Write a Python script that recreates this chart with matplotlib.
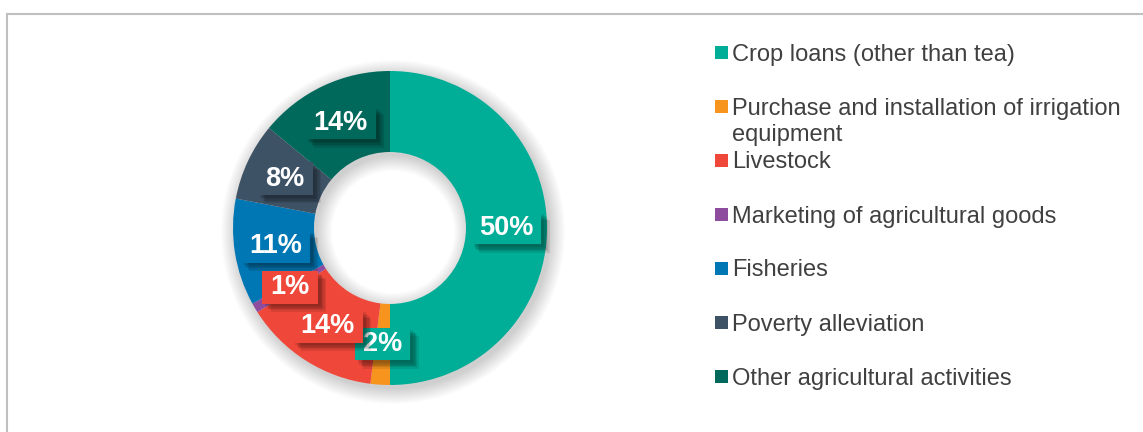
import matplotlib
matplotlib.use("Agg")
import matplotlib.pyplot as plt
import matplotlib.patheffects as pe
from matplotlib.patches import Wedge, Rectangle
from matplotlib.lines import Line2D

plt.rcParams['font.family'] = ['Liberation Sans', 'DejaVu Sans']

categories = [
    "Crop loans (other than tea)",
    "Purchase and installation of irrigation\nequipment",
    "Livestock",
    "Marketing of agricultural goods",
    "Fisheries",
    "Poverty alleviation",
    "Other agricultural activities",
]
shares = [50, 2, 14, 1, 11, 8, 14]
colors = ["#00ad97", "#f7941d", "#ef473a", "#8e4c9e", "#0077b5", "#3e5266", "#00695b"]
# the small slices take the label box colour of their neighbour
label_box_colors = ["#00ad97", "#00ad97", "#ef473a", "#ef473a", "#0077b5", "#3e5266", "#00695b"]


def main():
    W, H = 1143, 432
    fig = plt.figure(figsize=(W / 100, H / 100), dpi=100)
    ax = fig.add_axes([0, 0, 1, 1])

    cx, cy, r_out, ring = 390, 204, 157, 81

    # soft shadow behind the ring
    for i in range(16):
        ax.add_patch(Wedge((cx + 3, cy - 4), r_out + i, 0, 360, width=ring + 2 * i,
                           facecolor="black", alpha=0.011, linewidth=0, zorder=0))

    wedges, _, pcts = ax.pie(
        shares, colors=colors, startangle=90, counterclock=False,
        radius=r_out, center=(cx, cy), wedgeprops=dict(width=ring, linewidth=0),
        autopct=lambda p: f"{p:.0f}%", pctdistance=0.74, frame=True,
    )
    shadow = [pe.SimplePatchShadow(offset=(k, -k), shadow_rgbFace="black", alpha=0.09)
              for k in (2, 3, 4, 5, 6)]
    for t, c in zip(pcts, label_box_colors):
        t.set_color("white")
        t.set_fontsize(19.5)
        t.set_fontweight("bold")
        t.set_zorder(5)
        t.set_bbox(dict(boxstyle="square,pad=0.3", mutation_aspect=0.42,
                        facecolor=c, edgecolor="none"))
        t.get_bbox_patch().set_path_effects(shadow + [pe.Normal()])

    # legend
    y0, step = 432 - 52, 54
    for i, (lab, c) in enumerate(zip(categories, colors)):
        y = y0 - i * step
        ax.add_patch(Rectangle((715, y - 6.5), 13, 13, facecolor=c, edgecolor="none"))
        for j, line in enumerate(lab.split("\n")):
            ax.text(732, y - 8.5 - 26 * j, line, fontsize=17, color="#404040",
                    va="baseline", ha="left")

    ax.set_xlim(0, W)
    ax.set_ylim(0, H)
    ax.set_aspect("auto")
    ax.axis("off")

    # outer frame (top and left edges visible)
    fig.add_artist(Line2D([6.5 / W, 1], [1 - 13.5 / H] * 2, color="#bfbfbf", lw=1.5))
    fig.add_artist(Line2D([6.5 / W] * 2, [0, 1 - 13.5 / H], color="#bfbfbf", lw=1.5))

    fig.savefig("out.png", dpi=100, facecolor="white")


if __name__ == "__main__":

    main()
